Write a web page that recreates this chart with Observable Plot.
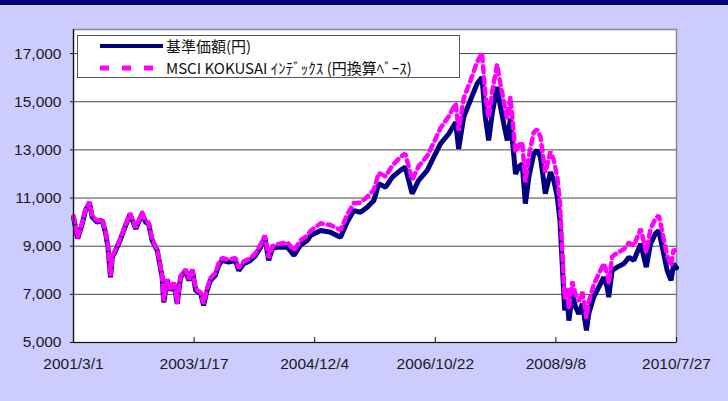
<!DOCTYPE html>
<html><head><meta charset="utf-8">
<script src="https://cdn.jsdelivr.net/npm/d3@7"></script>
<script src="https://cdn.jsdelivr.net/npm/@observablehq/plot@0.6"></script>
<style>
html,body{margin:0;padding:0;background:#ccccff;}
#wrap{position:relative;width:728px;height:401px;background:#ccccff;overflow:hidden;}
#bar{position:absolute;left:0;top:0;width:728px;height:4px;background:#000080;border-bottom:1.5px solid #000;}
#chart{position:absolute;left:0;top:0;}
#legend{position:absolute;left:77px;top:35px;width:383px;height:43px;background:#fff;border:1px solid #555;box-sizing:border-box;font-family:"Noto Sans CJK JP",sans-serif;font-size:15px;color:#111;}
.row{position:absolute;left:0;height:22px;line-height:22px;display:flex;align-items:center;}
.row span{line-height:22px;height:22px;display:inline-block;}
.row svg{margin-left:22px;margin-right:3px;}
</style></head><body>
<div id="wrap"><div id="chart"></div><div id="bar"></div>
<div id="legend"></div></div>
<script>
const seriesNames = ["基準価額(円)", "MSCI KOKUSAI ｲﾝﾃﾞｯｸｽ (円換算ﾍﾞｰｽ)"];
const dates = ["2001-03-01","2001-03-25","2001-04-20","2001-05-08","2001-05-31","2001-06-16","2001-07-14","2001-08-12","2001-08-31","2001-09-13","2001-09-28","2001-10-08","2001-10-27","2001-11-25","2001-12-23","2002-01-17","2002-02-19","2002-03-27","2002-04-15","2002-05-03","2002-05-23","2002-06-21","2002-07-05","2002-07-19","2002-07-28","2002-08-17","2002-09-05","2002-09-24","2002-10-13","2002-11-01","2002-11-30","2002-12-18","2003-01-07","2003-01-26","2003-02-24","2003-03-12","2003-04-01","2003-04-20","2003-05-18","2003-06-06","2003-06-25","2003-08-02","2003-09-10","2003-09-28","2003-10-27","2003-12-04","2004-01-02","2004-01-30","2004-02-24","2004-03-17","2004-04-06","2004-05-04","2004-07-01","2004-08-08","2004-09-15","2004-10-23","2004-11-11","2005-01-07","2005-03-04","2005-04-30","2005-06-07","2005-07-14","2005-08-22","2005-09-29","2005-11-06","2005-12-04","2006-01-12","2006-02-19","2006-04-06","2006-05-04","2006-06-12","2006-07-19","2006-09-06","2006-10-13","2006-11-20","2007-01-07","2007-02-15","2007-03-04","2007-04-02","2007-05-10","2007-06-17","2007-07-15","2007-08-03","2007-08-22","2007-09-11","2007-10-09","2007-10-28","2007-11-16","2007-12-06","2007-12-24","2008-01-22","2008-02-10","2008-02-29","2008-03-18","2008-04-07","2008-05-05","2008-05-24","2008-06-12","2008-07-10","2008-08-08","2008-08-27","2008-09-16","2008-10-01","2008-10-09","2008-10-18","2008-10-28","2008-11-12","2008-11-21","2008-12-10","2008-12-29","2009-01-17","2009-02-06","2009-03-01","2009-03-14","2009-04-11","2009-05-10","2009-06-08","2009-06-27","2009-07-06","2009-07-25","2009-08-23","2009-09-30","2009-10-29","2009-11-26","2010-01-04","2010-02-05","2010-03-01","2010-03-29","2010-04-17","2010-05-15","2010-06-04","2010-06-26","2010-07-11","2010-07-27"];
const fund = [10200,9320,9940,10480,10790,10200,10000,10070,9530,8960,7710,8540,8820,9310,9860,10320,9720,10350,10000,9930,9240,8820,8270,7710,6670,7580,7160,7440,6610,7710,7990,7580,7990,7160,7020,6540,7160,7580,7780,8200,8410,8340,8410,7990,8270,8410,8610,8960,9350,8410,8900,8960,8960,8620,9050,9240,9440,9650,9580,9370,10000,10480,10410,10620,10900,11590,11450,11870,12150,12280,11180,11730,12150,12700,13250,13670,14150,13040,14370,15060,15750,16020,14360,13390,14500,15610,14800,14090,13390,14300,12000,12300,12420,10770,11870,12840,12980,12700,11180,12080,11730,11040,10070,8960,7710,6330,6740,5910,7020,6470,6190,6610,5500,6190,6880,7300,7710,7300,6880,7990,8130,8270,8540,8410,9100,8130,9100,9520,9650,8680,7990,7580,8270,8100];
const msci = [10250,9370,9990,10530,10840,10250,10050,10120,9580,9010,7760,8590,8870,9360,9910,10370,9770,10400,10050,9980,9290,8870,8320,7760,6720,7630,7210,7490,6660,7760,8040,7630,8040,7210,7070,6600,7250,7680,7880,8300,8510,8440,8510,8090,8370,8510,8710,9060,9450,8510,9000,9080,9160,8820,9250,9440,9640,9950,9880,9670,10300,10780,10810,11050,11350,12040,11900,12350,12700,12850,11750,12320,12750,13300,13900,14400,14930,13800,15150,15870,16650,17020,15300,14330,15430,16550,15730,15010,14300,15200,12900,13200,13320,11650,12750,13730,13850,13550,12050,12930,12570,11850,10800,9600,8250,6850,7250,6400,7530,6980,6700,7100,6000,6700,7400,7850,8280,7870,7450,8570,8720,8870,9150,9020,9720,8740,9720,10140,10280,9300,8610,8200,8880,8720];
const yTicks = [5000,7000,9000,11000,13000,15000,17000];
const gridY = [7000,9000,11000,13000,15000,17000];
const xTickLabels = ["2001/3/1","2003/1/17","2004/12/4","2006/10/22","2008/9/8","2010/7/27"];
const colors = ["#000080","#ff00ff"];

const parseTick = s => { const [y,m,d] = s.split("/").map(Number); return new Date(Date.UTC(y,m-1,d)); };
const xTicks = xTickLabels.map(parseTick);
const fmt = d => `${d.getUTCFullYear()}/${d.getUTCMonth()+1}/${d.getUTCDate()}`;
const data = dates.map((d,i)=>({date:new Date(d+"T00:00:00Z"), fund:fund[i], msci:msci[i]}));

const chart = Plot.plot({
  width:728, height:401,
  marginLeft:73, marginRight:52, marginTop:29, marginBottom:59,
  style:{background:"transparent", fontFamily:"'Liberation Sans', Arial, sans-serif", fontSize:"15.5px", color:"#1a1a1a"},
  x:{type:"utc", domain:[xTicks[0], xTicks[xTicks.length-1]]},
  y:{domain:[5000,18000]},
  marks:[
    Plot.frame({fill:"white", stroke:"#888", strokeWidth:1.5}),
    Plot.ruleY(gridY, {stroke:"#444", strokeWidth:1}),
    Plot.lineY(data, {x:"date", y:"fund", stroke:colors[0], strokeWidth:5, strokeLinejoin:"miter"}),
    Plot.lineY(data, {x:"date", y:"msci", stroke:colors[1], strokeWidth:4.5, strokeDasharray:"6,5", strokeLinejoin:"miter"}),
    Plot.ruleX([xTicks[0]], {stroke:"#111", strokeWidth:1.2}),
    Plot.ruleY([yTicks[0]], {stroke:"#111", strokeWidth:1.2}),
    Plot.axisY({ticks:yTicks, tickFormat:d3.format(","), tickSize:3, tickPadding:9, label:null, stroke:"#111"}),
    Plot.axisX({ticks:xTicks, tickFormat:fmt, tickSize:-5, tickPadding:20, label:null, stroke:"#111"})
  ]
});
document.getElementById("chart").appendChild(chart);

const legend = document.getElementById("legend");
seriesNames.forEach((name,i)=>{
  const row = document.createElement("div");
  row.className = "row";
  row.style.top = (i===0 ? -1 : 21) + "px";
  const dash = i===0 ? "" : ' stroke-dasharray="9,13"';
  row.innerHTML = `<svg width="63" height="8"><line x1="0" y1="4" x2="63" y2="4" stroke="${colors[i]}" stroke-width="${i===0?4:5}"${dash}/></svg><span>${name}</span>`;
  legend.appendChild(row);
});
</script>
</body></html>
